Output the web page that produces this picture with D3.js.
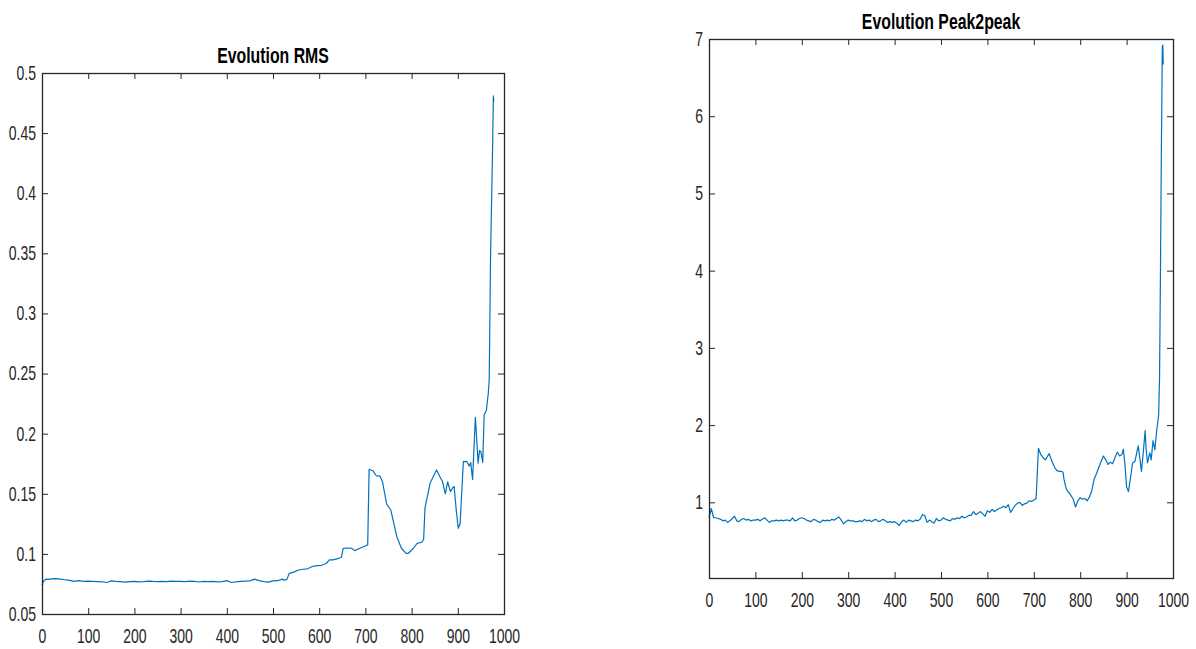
<!DOCTYPE html>
<html>
<head>
<meta charset="utf-8">
<script src="https://cdn.jsdelivr.net/npm/d3@7"></script>
<style>
  html, body { margin: 0; padding: 0; background: #fff; }
  svg { display: block; }
  .tick text, .title {
    font-family: "Liberation Sans", Arial, sans-serif;
    fill: #262626;
    transform-box: fill-box;
  }
  .xlab .tick text, .title { transform-origin: 50% 50%; }
  .ylab .tick text { transform-origin: 100% 50%; }
</style>
</head>
<body>
<svg id="chart" width="1196" height="649"></svg>
<script>
// Sample index and RMS value per sample
const rmsX = [0, 3, 8, 15, 20, 30, 40, 50, 60, 70, 80, 90, 100, 110, 120, 130, 140, 150, 160, 170,
  180, 190, 200, 210, 220, 230, 240, 250, 260, 270, 280, 290, 300, 310, 320, 330, 340, 350, 360, 370,
  380, 390, 400, 410, 420, 430, 440, 450, 460, 470, 480, 490, 500, 510, 520, 525, 530, 535, 545, 555,
  565, 575, 585, 595, 605, 615, 622, 630, 640, 648, 652, 660, 670, 677, 688, 701, 705, 708, 716, 724,
  731, 737, 746, 755, 768, 778, 788, 793, 804, 812, 822, 826, 829, 840, 854, 861, 867, 873, 878, 884,
  889, 892, 897, 901, 905, 912, 919, 925, 928, 932, 938, 944, 947, 950, 954, 957, 962, 966, 968, 971,
  975, 977, 978];
const rmsY = [0.074, 0.077, 0.079, 0.0788, 0.0792, 0.0795, 0.079, 0.0785, 0.078, 0.0772, 0.0778, 0.0772, 0.0773, 0.0772, 0.077, 0.0768, 0.0762, 0.0775, 0.0772, 0.077,
  0.0765, 0.077, 0.0772, 0.0768, 0.077, 0.0774, 0.0771, 0.0769, 0.0772, 0.077, 0.0774, 0.0771, 0.0772, 0.077, 0.0773, 0.0771, 0.0766, 0.0772, 0.077, 0.0771,
  0.0768, 0.077, 0.0778, 0.0762, 0.0768, 0.0772, 0.0774, 0.0776, 0.079, 0.0778, 0.077, 0.0765, 0.0775, 0.0777, 0.079, 0.0782, 0.0786, 0.0838, 0.0848, 0.0866,
  0.0872, 0.0876, 0.0895, 0.0903, 0.0905, 0.092, 0.095, 0.095, 0.096, 0.0972, 0.1047, 0.1048, 0.1047, 0.1027, 0.1047, 0.1068, 0.1075, 0.1704, 0.1692, 0.1648,
  0.165, 0.16, 0.1415, 0.1365, 0.1143, 0.1047, 0.1005, 0.1005, 0.1047, 0.1088, 0.1097, 0.112, 0.138, 0.1587, 0.1698, 0.1643, 0.16, 0.15, 0.16, 0.1518,
  0.155, 0.156, 0.135, 0.1213, 0.125, 0.1767, 0.177, 0.173, 0.176, 0.162, 0.2136, 0.1754, 0.186, 0.185, 0.176, 0.2156, 0.2197, 0.2336, 0.2447, 0.35,
  0.4305, 0.481, 0.476];

// Sample index and peak-to-peak value per sample
const p2pX = [0, 5, 10, 15, 20, 25, 30, 35, 40, 45, 50, 55, 60, 65, 70, 75, 80, 85, 90, 95,
  100, 105, 110, 115, 120, 125, 130, 135, 140, 145, 150, 155, 160, 165, 170, 175, 180, 185, 190, 195,
  200, 205, 210, 215, 220, 225, 230, 235, 240, 245, 250, 255, 260, 265, 270, 275, 280, 285, 290, 295,
  300, 305, 310, 315, 320, 325, 330, 335, 340, 345, 350, 355, 360, 365, 370, 375, 380, 385, 390, 395,
  400, 405, 410, 415, 420, 425, 430, 435, 440, 445, 450, 455, 460, 465, 470, 475, 480, 485, 490, 495,
  500, 505, 510, 515, 520, 525, 530, 535, 540, 545, 550, 555, 560, 565, 570, 575, 580, 585, 590, 595,
  600, 605, 610, 615, 620, 625, 630, 635, 640, 645, 650, 655, 660, 665, 670, 675, 680, 685, 690, 695,
  700, 705, 710, 715, 720, 725, 730, 733, 740, 745, 750, 755, 760, 763, 765, 770, 775, 780, 785, 790,
  795, 800, 805, 810, 815, 820, 825, 830, 835, 840, 845, 850, 855, 860, 865, 870, 875, 880, 885, 890,
  893, 897, 900, 904, 908, 913, 918, 925, 929, 932, 936, 940, 942, 945, 950, 953, 957, 961, 965, 969,
  971, 973, 975, 977, 978, 979];
const p2pY = [0.80, 0.92, 0.80, 0.80, 0.79, 0.78, 0.76, 0.77, 0.74, 0.76, 0.79, 0.82, 0.76, 0.75, 0.78, 0.79, 0.77, 0.78, 0.76, 0.77,
  0.77, 0.78, 0.76, 0.78, 0.80, 0.77, 0.74, 0.76, 0.76, 0.77, 0.76, 0.77, 0.76, 0.77, 0.77, 0.76, 0.80, 0.76, 0.77, 0.79,
  0.80, 0.79, 0.77, 0.76, 0.75, 0.78, 0.77, 0.75, 0.74, 0.77, 0.76, 0.77, 0.76, 0.78, 0.77, 0.79, 0.81, 0.77, 0.72, 0.75,
  0.77, 0.76, 0.76, 0.75, 0.75, 0.76, 0.75, 0.78, 0.76, 0.77, 0.75, 0.77, 0.78, 0.75, 0.76, 0.78, 0.76, 0.74, 0.75, 0.74,
  0.75, 0.73, 0.70, 0.75, 0.77, 0.74, 0.77, 0.76, 0.75, 0.77, 0.76, 0.78, 0.84, 0.83, 0.74, 0.77, 0.75, 0.73, 0.79, 0.76,
  0.77, 0.80, 0.78, 0.77, 0.76, 0.79, 0.78, 0.80, 0.79, 0.82, 0.80, 0.81, 0.83, 0.83, 0.88, 0.84, 0.86, 0.88, 0.85, 0.82,
  0.89, 0.87, 0.91, 0.88, 0.90, 0.92, 0.93, 0.95, 0.93, 0.97, 0.87, 0.92, 0.96, 0.99, 1.00, 0.96, 0.98, 0.99, 1.02, 1.01,
  1.03, 1.05, 1.70, 1.62, 1.58, 1.55, 1.60, 1.63, 1.52, 1.45, 1.41, 1.40, 1.40, 1.39, 1.30, 1.17, 1.13, 1.09, 1.04, 0.94,
  1.02, 1.06, 1.04, 1.05, 1.02, 1.07, 1.15, 1.30, 1.37, 1.45, 1.53, 1.60, 1.55, 1.49, 1.52, 1.50, 1.58, 1.65, 1.60, 1.62,
  1.69, 1.45, 1.20, 1.14, 1.30, 1.51, 1.53, 1.73, 1.55, 1.40, 1.65, 1.93, 1.70, 1.51, 1.64, 1.55, 1.80, 1.68, 1.94, 2.12,
  2.60, 4.00, 5.60, 6.90, 6.92, 6.67];

const xTicks = [0, 100, 200, 300, 400, 500, 600, 700, 800, 900, 1000];
const rmsTicks = [0.05, 0.1, 0.15, 0.2, 0.25, 0.3, 0.35, 0.4, 0.45, 0.5];
const p2pTicks = [1, 2, 3, 4, 5, 6, 7];
const titles = ["Evolution RMS", "Evolution Peak2peak"];

const svg = d3.select("#chart");
const axisColor = "#262626";
const lineColor = "#0072BD";
const squeeze = 0.7;

function panel(cfg) {
  const { left, top, width, height, xs, ys, yDomain, yTicks, yFmt, title } = cfg;
  const x = d3.scaleLinear().domain([0, 1000]).range([left, left + width]);
  const y = d3.scaleLinear().domain(yDomain).range([top + height, top]);
  const g = svg.append("g");

  // line
  const pts = xs.map((d, i) => [d, ys[i]]);
  g.append("path")
    .datum(pts)
    .attr("fill", "none")
    .attr("stroke", lineColor)
    .attr("stroke-width", 1.2)
    .attr("stroke-linejoin", "round")
    .attr("d", d3.line().x(d => x(d[0])).y(d => y(d[1])));

  const style = sel => {
    sel.select(".domain").remove();
    sel.selectAll(".tick line").attr("stroke", axisColor).attr("stroke-width", 1);
  };

  // bottom axis with labels
  g.append("g").attr("class", "xlab")
    .attr("transform", `translate(0,${top + height})`)
    .call(d3.axisBottom(x).tickValues(xTicks).tickSizeInner(-6).tickSizeOuter(0).tickPadding(15).tickFormat(d3.format("d")))
    .call(style)
    .call(s => s.selectAll("text").attr("font-size", 20).style("transform", `scaleX(${squeeze})`));
  // top axis ticks only
  g.append("g")
    .attr("transform", `translate(0,${top})`)
    .call(d3.axisTop(x).tickValues(xTicks).tickSizeInner(-6).tickSizeOuter(0).tickFormat(""))
    .call(style);
  // left axis with labels
  g.append("g").attr("class", "ylab")
    .attr("transform", `translate(${left},0)`)
    .call(d3.axisLeft(y).tickValues(yTicks).tickSizeInner(-6).tickSizeOuter(0).tickPadding(6).tickFormat(yFmt))
    .call(style)
    .call(s => s.selectAll("text").attr("font-size", 20).style("transform", `scaleX(${squeeze})`));
  // right axis ticks only
  g.append("g")
    .attr("transform", `translate(${left + width},0)`)
    .call(d3.axisRight(y).tickValues(yTicks).tickSizeInner(-6).tickSizeOuter(0).tickFormat(""))
    .call(style);

  // box
  g.append("rect")
    .attr("x", left + 0.5).attr("y", top + 0.5)
    .attr("width", width).attr("height", height)
    .attr("fill", "none").attr("stroke", axisColor).attr("stroke-width", 1.3);

  g.append("text").attr("class", "title")
    .attr("x", left + width / 2).attr("y", top - 10)
    .attr("text-anchor", "middle")
    .attr("font-size", 22).attr("font-weight", "bold")
    .style("fill", "#000")
    .style("transform", "scaleX(0.72)")
    .text(title);
}

panel({
  left: 42, top: 73, width: 462, height: 541,
  xs: rmsX, ys: rmsY, yDomain: [0.05, 0.5], yTicks: rmsTicks,
  yFmt: d => d3.format("")(+d.toFixed(2)), title: titles[0]
});
panel({
  left: 709, top: 39, width: 464, height: 539,
  xs: p2pX, ys: p2pY, yDomain: [0.02, 7], yTicks: p2pTicks,
  yFmt: d3.format("d"), title: titles[1]
});
</script>
</body>
</html>
